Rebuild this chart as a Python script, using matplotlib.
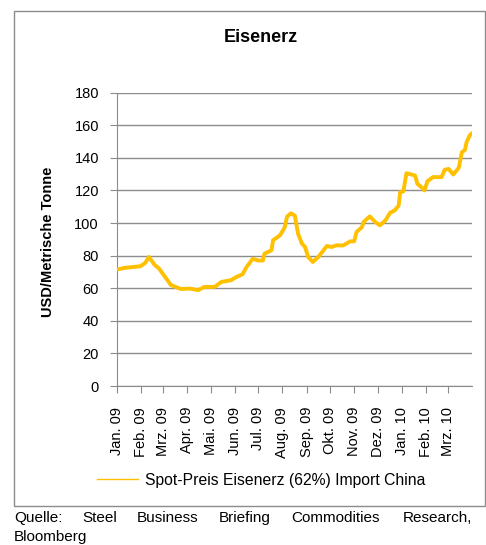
import numpy as np
import pandas as pd
import matplotlib
matplotlib.use("Agg")
import matplotlib.pyplot as plt
from matplotlib.lines import Line2D
from matplotlib.patches import Rectangle

plt.rcParams['font.family'] = ['Liberation Sans', 'DejaVu Sans']

# Spot price (USD per metric ton)
dates = ["2009-01-01", "2009-01-11", "2009-01-31", "2009-02-06", "2009-02-11",
         "2009-02-18", "2009-02-24", "2009-03-11", "2009-03-24", "2009-04-04",
         "2009-04-15", "2009-04-23", "2009-05-06", "2009-05-15", "2009-05-27",
         "2009-06-03", "2009-06-11", "2009-06-16", "2009-06-24", "2009-07-01",
         "2009-07-07", "2009-07-09", "2009-07-18", "2009-07-20", "2009-07-29",
         "2009-08-04", "2009-08-07", "2009-08-12", "2009-08-17", "2009-08-21",
         "2009-08-26", "2009-08-30", "2009-09-03", "2009-09-09", "2009-09-16",
         "2009-09-27", "2009-10-03", "2009-10-09", "2009-10-18", "2009-10-27",
         "2009-11-01", "2009-11-04", "2009-11-11", "2009-11-13", "2009-11-21",
         "2009-11-28", "2009-12-04", "2009-12-11", "2009-12-17", "2009-12-23",
         "2009-12-28", "2009-12-30", "2010-01-03", "2010-01-07", "2010-01-18",
         "2010-01-21", "2010-01-27", "2010-01-30", "2010-02-03", "2010-02-10",
         "2010-02-21", "2010-02-25", "2010-03-02", "2010-03-08", "2010-03-15",
         "2010-03-19", "2010-03-23", "2010-03-25", "2010-03-29", "2010-03-31"]
prices = [71.5, 72.5, 73.5, 75.5, 79.2,
          74.5, 72.0, 62.0, 59.5, 59.8,
          58.8, 60.8, 60.8, 63.9, 64.9,
          66.9, 68.6, 73.0, 78.1, 77.0,
          77.0, 81.2, 83.3, 89.4, 92.5,
          97.5, 104.0, 106.0, 104.5, 93.5,
          87.4, 85.3, 79.2, 76.1, 79.2,
          85.9, 85.3, 86.3, 86.3, 88.8,
          88.8, 94.5, 97.5, 100.6, 104.1,
          100.6, 98.6, 101.6, 106.3, 107.8,
          110.8, 119.0, 119.4, 130.6, 129.2,
          124.1, 121.6, 120.0, 125.7, 128.2,
          128.2, 132.7, 133.2, 129.8, 133.9,
          143.4, 144.9, 149.6, 153.7, 154.7]

month_labels = ["Jan. 09", "Feb. 09", "Mrz. 09", "Apr. 09", "Mai. 09", "Jun. 09",
                "Jul. 09", "Aug. 09", "Sep. 09", "Okt. 09", "Nov. 09", "Dez. 09",
                "Jan. 10", "Feb. 10", "Mrz. 10"]
month_starts = pd.date_range("2009-01-01", periods=len(month_labels), freq="MS")

W, H = 486, 545
fig = plt.figure(figsize=(W / 100, H / 100), dpi=100)

# outer frame of the chart
fig.patches.append(Rectangle((14 / W, 1 - 506 / H), (485 - 14) / W, (506 - 11) / H,
                             transform=fig.transFigure, fill=False,
                             edgecolor="#8c8c8c", lw=1.0))

ax = fig.add_axes([117 / W, 1 - 386 / H, (472 - 117) / W, (386 - 92.7) / H])
ax.plot(pd.to_datetime(dates), prices, color="#FFC000", lw=2.8,
        solid_joinstyle="round", zorder=3)

ax.set_ylim(0, 180)
ax.set_yticks(np.arange(0, 181, 20))
ax.set_xlim(pd.Timestamp("2009-01-01"), pd.Timestamp("2010-04-01"))
ax.set_xticks(month_starts)
ax.set_xticklabels(month_labels, rotation=90)
ax.grid(axis="y", color="#8c8c8c", lw=1.0)
ax.set_axisbelow(True)
for s in ["top", "right"]:
    ax.spines[s].set_visible(False)
for s in ["left", "bottom"]:
    ax.spines[s].set_color("#8c8c8c")
ax.tick_params(axis="both", colors="#8c8c8c", length=5, labelcolor="black",
               labelsize=10.5)
ax.tick_params(axis="y", pad=8)
ax.tick_params(axis="x", pad=10)

fig.text(261 / W, 1 - 37 / H, "Eisenerz", ha="center", va="center",
         fontsize=13, fontweight="bold")
fig.text(48 / W, 1 - 242 / H, "USD/Metrische Tonne", ha="center", va="center",
         rotation=90, fontsize=10.5, fontweight="bold")

handle = Line2D([], [], color="#FFC000", lw=1.0)
fig.legend(handles=[handle], labels=["Spot-Preis Eisenerz (62%) Import China"],
           loc="center", bbox_to_anchor=(261 / W, 1 - 480 / H), frameon=False,
           fontsize=11.3, handlelength=2.6, handletextpad=0.45)

# source line, spread across the width like the justified original
words = ["Quelle:", "Steel", "Business", "Briefing", "Commodities", "Research,"]
word_x = [14, 82, 137, 219, 291, 403]
for w, x in zip(words, word_x):
    fig.text(x / W, 1 - 518 / H, w, ha="left", va="center", fontsize=11)
fig.text(14 / W, 1 - 537 / H, "Bloomberg", ha="left", va="center", fontsize=11)

fig.savefig("out.png", dpi=100)
